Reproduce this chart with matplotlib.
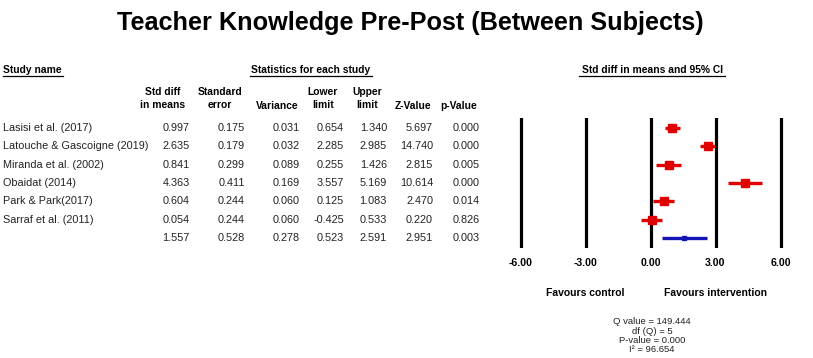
import matplotlib.pyplot as plt

plt.rcParams['font.family'] = ['Liberation Sans', 'DejaVu Sans']

# --- # Study data (standardised mean differences)
studies = ['Lasisi et al. (2017)', 'Latouche & Gascoigne (2019)', 'Miranda et al. (2002)',
           'Obaidat (2014)', 'Park & Park(2017)', 'Sarraf et al. (2011)', '']
std_diff = [0.997, 2.635, 0.841, 4.363, 0.604, 0.054, 1.557]
std_err = [0.175, 0.179, 0.299, 0.411, 0.244, 0.244, 0.528]
variance = [0.031, 0.032, 0.089, 0.169, 0.060, 0.060, 0.278]
lower = [0.654, 2.285, 0.255, 3.557, 0.125, -0.425, 0.523]
upper = [1.340, 2.985, 1.426, 5.169, 1.083, 0.533, 2.591]
z_value = [5.697, 14.740, 2.815, 10.614, 2.470, 0.220, 2.951]
p_value = [0.000, 0.000, 0.005, 0.000, 0.014, 0.826, 0.003]

col_heads = ['Std diff\nin means', 'Standard\nerror', 'Variance', 'Lower\nlimit',
             'Upper\nlimit', 'Z-Value', 'p-Value']
ticks = [-6, -3, 0, 3, 6]
het_lines = ['Q value = 149.444', 'df (Q) = 5', 'P-value = 0.000', 'I\u00b2 = 96.654']

W, H = 813, 358
fig = plt.figure(figsize=(W / 100, H / 100), dpi=100)

# overlay axes in pixel coords for the table and labels
tx = fig.add_axes([0, 0, 1, 1])
tx.set_xlim(0, W)
tx.set_ylim(H, 0)
tx.axis('off')

tx.text(410, 23, 'Teacher Knowledge Pre-Post (Between Subjects)', ha='center', va='center',
        fontsize=18.2, fontweight='bold')

hdr = dict(fontsize=7.4, fontweight='bold', va='center')
tx.text(3, 70, 'Study name', ha='left', **hdr)
tx.plot([3, 63], [76, 76], color='black', lw=0.9)
tx.text(311, 70, 'Statistics for each study', ha='center', **hdr)
tx.plot([250, 372], [76, 76], color='black', lw=0.9)
tx.text(652, 70, 'Std diff in means and 95% CI', ha='center', **hdr)
tx.plot([579, 725], [76, 76], color='black', lw=0.9)

# column right edges and header centres
col_right = [190, 245, 300, 344, 387, 433, 480]
head_x = [163, 220, 277, 323, 367, 413, 459]
for hx, name in zip(head_x, col_heads):
    y = 98.5 if '\n' in name else 106
    tx.text(hx, y, name, ha='center', linespacing=1.35, **hdr)

row_y = [128 + i * 18.33 for i in range(len(studies))]
cols = [std_diff, std_err, variance, lower, upper, z_value, p_value]
for i, y in enumerate(row_y):
    tx.text(3, y, studies[i], ha='left', va='center', fontsize=7.8, color='#222222')
    for cx, col in zip(col_right, cols):
        tx.text(cx, y, '%.3f' % col[i], ha='right', va='center', fontsize=7.8, color='#222222')

# --- # Forest plot
scale = 65 / 3
x0 = 650.5
ax = fig.add_axes([(x0 - 6.5 * scale) / W, (H - 248) / H, 13 * scale / W, 130 / H])
ax.set_xlim(-6.5, 6.5)
ax.set_ylim(6.545, -0.545)
ax.axis('off')
for t in ticks:
    ax.axvline(t, color='black', lw=2.3)
    tx.text(x0 + t * scale, 263, '%.2f' % t, ha='center', va='center', fontsize=7.6, fontweight='bold')

for i in range(len(studies) - 1):
    ax.plot([lower[i], upper[i]], [i, i], color='#e00000', lw=2.4, solid_capstyle='butt')
    ax.plot(std_diff[i], i, 's', color='#e00000', markersize=6)
k = len(studies) - 1
ax.plot([lower[k], upper[k]], [k, k], color='#1515b5', lw=2.4, solid_capstyle='butt')
ax.plot(std_diff[k], k, 's', color='#1515b5', markersize=2.5)

tx.text(585, 293, 'Favours control', ha='center', va='center', fontsize=7.5, fontweight='bold')
tx.text(715, 293, 'Favours intervention', ha='center', va='center', fontsize=7.5, fontweight='bold')
for j, line in enumerate(het_lines):
    tx.text(652, 322 + j * 9.3, line, ha='center', va='center', fontsize=6.8, color='#222222')

fig.savefig('out.png', dpi=100)
